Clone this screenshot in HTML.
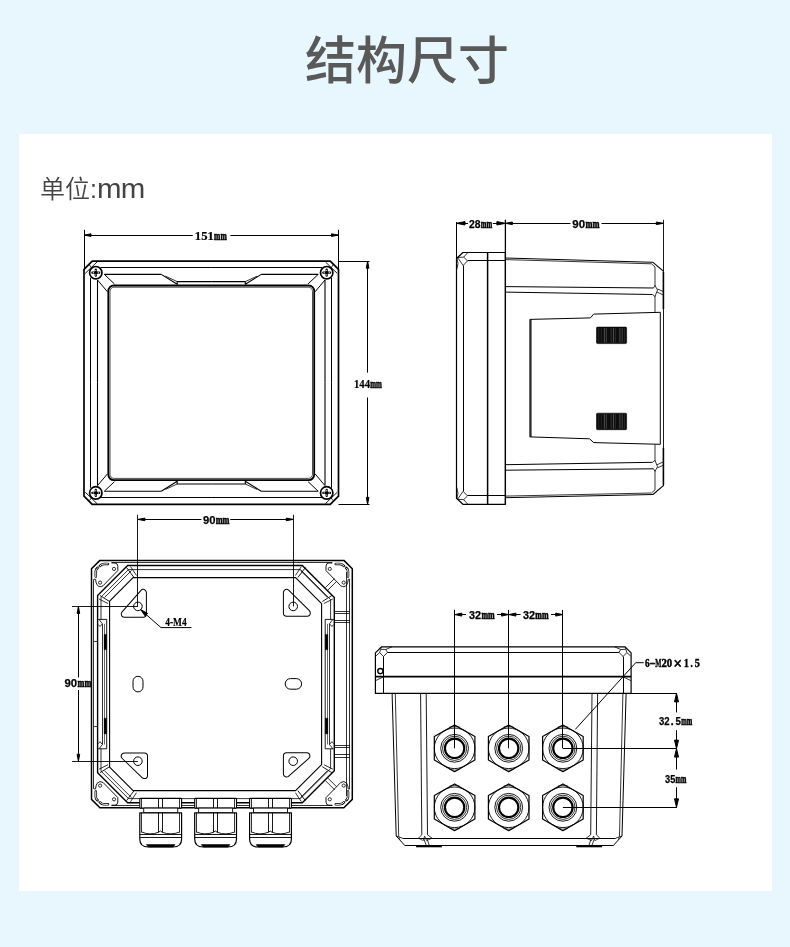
<!DOCTYPE html>
<html lang="zh-CN">
<head>
<meta charset="utf-8">
<title>结构尺寸</title>
<style>
html,body{margin:0;padding:0;}
body{width:790px;height:947px;background:#e8f6fe;position:relative;overflow:hidden;font-family:"Liberation Sans","Noto Sans CJK SC",sans-serif;}
.title{position:absolute;left:0;top:24px;width:790px;text-align:center;font-size:51px;line-height:76px;color:#595959;font-weight:500;letter-spacing:0px;text-indent:24px;will-change:transform;}
.card{position:absolute;left:18.5px;top:134px;width:753.5px;height:756.5px;background:#fff;}
.unit{position:absolute;left:40px;top:171px;font-size:25px;line-height:36px;color:#444;font-weight:350;white-space:nowrap;will-change:transform;}
.unit span{display:inline-block;font-size:27px;letter-spacing:-0.6px;transform:scaleX(1.09);transform-origin:0 50%;margin-left:0.3px;}
svg{position:absolute;left:0;top:0;will-change:transform;}
svg line, svg path, svg circle, svg rect, svg ellipse{stroke:#000;}
svg text{font-family:"Liberation Serif",serif;font-weight:700;fill:#000;stroke:#000;stroke-width:0.2px;}
svg text.mm{stroke:#000;stroke-width:0.6px;}
svg text.sn{font-family:"Liberation Sans",sans-serif;stroke:#000;stroke-width:0.25px;}
</style>
</head>
<body>
<div class="title">结构尺寸</div>
<div class="card"></div>
<div class="unit">单位:<span>mm</span></div>
<svg width="790" height="947" viewBox="0 0 790 947" fill="none" stroke-linecap="butt" stroke-linejoin="round">
<g id="front">
<path d="M92.2,261.2 L330.3,261.2 L338.5,269.4 L338.5,496.2 L330.3,504.4 L92.2,504.4 L84.0,496.2 L84.0,269.4 Z" stroke-width="1.7" fill="none" />
<line x1="100.5" y1="267.5" x2="211.2" y2="267.5" stroke-width="1.0" />
<line x1="90.5" y1="277.8" x2="90.5" y2="382.8" stroke-width="1.0" />
<line x1="104.3" y1="274.4" x2="161.3" y2="274.4" stroke-width="1.1" />
<line x1="97.5" y1="280.0" x2="97.5" y2="382.8" stroke-width="1.1" />
<path d="M161.3,274.4 L177.2,284.3 L177.2,281.6 L211.2,281.6" stroke-width="1.1" fill="none" />
<path d="M165.5,276.2 L177.2,281.6" stroke-width="0.8" fill="none" />
<line x1="104.3" y1="274.4" x2="114.4" y2="283.9" stroke-width="1.0" />
<line x1="97.5" y1="280.0" x2="107.5" y2="291.8" stroke-width="1.0" />
<line x1="85.2" y1="273.4" x2="97.0" y2="262.0" stroke-width="0.9" />
<line x1="89.5" y1="265.0" x2="91.8" y2="268.3" stroke-width="0.8" />
<circle cx="95.8" cy="272.7" r="6.2" stroke-width="1.7" fill="#fff"/>
<path d="M92.4,272.7 h6.8 M95.8,269.7 v6.0" stroke-width="2.3" stroke-linecap="round" fill="none"/>
<circle cx="95.8" cy="270.5" r="0.6" fill="#fff" style="stroke:none"/>
<circle cx="95.8" cy="274.9" r="0.6" fill="#fff" style="stroke:none"/>
<circle cx="93.3" cy="272.7" r="0.6" fill="#fff" style="stroke:none"/>
<circle cx="98.3" cy="272.7" r="0.6" fill="#fff" style="stroke:none"/>
<line x1="100.5" y1="497.5" x2="211.2" y2="497.5" stroke-width="1.0" />
<line x1="90.5" y1="487.8" x2="90.5" y2="382.8" stroke-width="1.0" />
<line x1="104.3" y1="491.2" x2="161.3" y2="491.2" stroke-width="1.1" />
<line x1="97.5" y1="485.6" x2="97.5" y2="382.8" stroke-width="1.1" />
<path d="M161.3,491.2 L177.2,481.3 L177.2,484.0 L211.2,484.0" stroke-width="1.1" fill="none" />
<path d="M165.5,489.4 L177.2,484.0" stroke-width="0.8" fill="none" />
<line x1="104.3" y1="491.2" x2="114.4" y2="481.7" stroke-width="1.0" />
<line x1="97.5" y1="485.6" x2="107.5" y2="473.8" stroke-width="1.0" />
<line x1="85.2" y1="492.2" x2="97.0" y2="503.6" stroke-width="0.9" />
<line x1="89.5" y1="500.6" x2="91.8" y2="497.3" stroke-width="0.8" />
<circle cx="95.8" cy="492.9" r="6.2" stroke-width="1.7" fill="#fff"/>
<path d="M92.4,492.9 h6.8 M95.8,489.9 v6.0" stroke-width="2.3" stroke-linecap="round" fill="none"/>
<circle cx="95.8" cy="490.7" r="0.6" fill="#fff" style="stroke:none"/>
<circle cx="95.8" cy="495.1" r="0.6" fill="#fff" style="stroke:none"/>
<circle cx="93.3" cy="492.9" r="0.6" fill="#fff" style="stroke:none"/>
<circle cx="98.3" cy="492.9" r="0.6" fill="#fff" style="stroke:none"/>
<line x1="322.0" y1="267.5" x2="211.2" y2="267.5" stroke-width="1.0" />
<line x1="331.5" y1="277.8" x2="331.5" y2="382.8" stroke-width="1.0" />
<line x1="318.2" y1="274.4" x2="261.2" y2="274.4" stroke-width="1.1" />
<line x1="325.0" y1="280.0" x2="325.0" y2="382.8" stroke-width="1.1" />
<path d="M261.2,274.4 L245.3,284.3 L245.3,281.6 L211.2,281.6" stroke-width="1.1" fill="none" />
<path d="M257.0,276.2 L245.3,281.6" stroke-width="0.8" fill="none" />
<line x1="318.2" y1="274.4" x2="308.1" y2="283.9" stroke-width="1.0" />
<line x1="325.0" y1="280.0" x2="315.0" y2="291.8" stroke-width="1.0" />
<line x1="337.3" y1="273.4" x2="325.5" y2="262.0" stroke-width="0.9" />
<line x1="333.0" y1="265.0" x2="330.7" y2="268.3" stroke-width="0.8" />
<circle cx="326.7" cy="272.7" r="6.2" stroke-width="1.7" fill="#fff"/>
<path d="M323.3,272.7 h6.8 M326.7,269.7 v6.0" stroke-width="2.3" stroke-linecap="round" fill="none"/>
<circle cx="326.7" cy="270.5" r="0.6" fill="#fff" style="stroke:none"/>
<circle cx="326.7" cy="274.9" r="0.6" fill="#fff" style="stroke:none"/>
<circle cx="324.2" cy="272.7" r="0.6" fill="#fff" style="stroke:none"/>
<circle cx="329.2" cy="272.7" r="0.6" fill="#fff" style="stroke:none"/>
<line x1="322.0" y1="497.5" x2="211.2" y2="497.5" stroke-width="1.0" />
<line x1="331.5" y1="487.8" x2="331.5" y2="382.8" stroke-width="1.0" />
<line x1="318.2" y1="491.2" x2="261.2" y2="491.2" stroke-width="1.1" />
<line x1="325.0" y1="485.6" x2="325.0" y2="382.8" stroke-width="1.1" />
<path d="M261.2,491.2 L245.3,481.3 L245.3,484.0 L211.2,484.0" stroke-width="1.1" fill="none" />
<path d="M257.0,489.4 L245.3,484.0" stroke-width="0.8" fill="none" />
<line x1="318.2" y1="491.2" x2="308.1" y2="481.7" stroke-width="1.0" />
<line x1="325.0" y1="485.6" x2="315.0" y2="473.8" stroke-width="1.0" />
<line x1="337.3" y1="492.2" x2="325.5" y2="503.6" stroke-width="0.9" />
<line x1="333.0" y1="500.6" x2="330.7" y2="497.3" stroke-width="0.8" />
<circle cx="326.7" cy="492.9" r="6.2" stroke-width="1.7" fill="#fff"/>
<path d="M323.3,492.9 h6.8 M326.7,489.9 v6.0" stroke-width="2.3" stroke-linecap="round" fill="none"/>
<circle cx="326.7" cy="490.7" r="0.6" fill="#fff" style="stroke:none"/>
<circle cx="326.7" cy="495.1" r="0.6" fill="#fff" style="stroke:none"/>
<circle cx="324.2" cy="492.9" r="0.6" fill="#fff" style="stroke:none"/>
<circle cx="329.2" cy="492.9" r="0.6" fill="#fff" style="stroke:none"/>
<rect x="108.3" y="285.5" width="205.9" height="194.6" rx="5.5" stroke-width="1.8" fill="none"/>
<rect x="110.0" y="287.2" width="202.5" height="191.2" rx="4.2" stroke-width="0.7" fill="none"/>
<line x1="84.5" y1="229.8" x2="84.5" y2="269.4" stroke-width="1.0" />
<line x1="338.5" y1="229.8" x2="338.5" y2="269.4" stroke-width="1.0" />
<line x1="84.0" y1="235.5" x2="192.8" y2="235.5" stroke-width="1.0" />
<line x1="230.4" y1="235.5" x2="338.5" y2="235.5" stroke-width="1.0" />
<path d="M84.0,235.1 L91.0,233.8 L91.0,236.4 Z" fill="#000" stroke="none"/>
<path d="M338.5,235.1 L331.5,233.8 L331.5,236.4 Z" fill="#000" stroke="none"/>
<text x="194.8" y="239.6" font-size="12.2" textLength="19.0" lengthAdjust="spacingAndGlyphs">151</text>
<text x="214.1" y="239.6" font-size="11.5" textLength="12.6" lengthAdjust="spacingAndGlyphs" class="mm">mm</text>
<line x1="338.5" y1="261.5" x2="369.5" y2="261.5" stroke-width="1.0" />
<line x1="338.5" y1="504.5" x2="369.5" y2="504.5" stroke-width="1.0" />
<line x1="367.5" y1="261.2" x2="367.5" y2="372.6" stroke-width="1.0" />
<line x1="367.5" y1="397.5" x2="367.5" y2="504.4" stroke-width="1.0" />
<path d="M367.6,261.2 L366.3,268.2 L368.9,268.2 Z" fill="#000" stroke="none"/>
<path d="M367.6,504.4 L366.3,497.4 L368.9,497.4 Z" fill="#000" stroke="none"/>
<text x="353.9" y="387.5" font-size="12.2" textLength="16.1" lengthAdjust="spacingAndGlyphs">144</text>
<text x="370.3" y="387.5" font-size="11.5" textLength="11.6" lengthAdjust="spacingAndGlyphs" class="mm">mm</text>
</g>
<g id="side">
<path d="M462.9,252.5 L505.4,252.5 L505.4,504.3 L462.9,504.3 L456.5,498.3 L456.5,258.5 Z" stroke-width="1.2" fill="none" />
<line x1="463.5" y1="265.5" x2="463.5" y2="491.3" stroke-width="1.0" />
<line x1="467.5" y1="260.5" x2="505.4" y2="260.5" stroke-width="1.0" />
<line x1="467.5" y1="495.5" x2="505.4" y2="495.5" stroke-width="1.0" />
<line x1="487.6" y1="252.5" x2="487.6" y2="504.3" stroke-width="1.5" />
<path d="M467.8,252.6 L463.7,257.1 L467.5,260.9 L463.1,265.5 L457.6,257.5 L463.7,257.1" stroke-width="0.8" fill="none" />
<path d="M456.8,258.0 L458.0,263.5 L456.8,269.3" stroke-width="0.8" fill="none" />
<path d="M467.8,504.2 L463.7,499.7 L467.5,495.9 L463.1,491.3 L457.6,499.3 L463.7,499.7" stroke-width="0.8" fill="none" />
<path d="M456.8,498.8 L458.0,493.3 L456.8,487.5" stroke-width="0.8" fill="none" />
<line x1="456.5" y1="222.0" x2="456.5" y2="258.0" stroke-width="1.0" />
<line x1="505.4" y1="219.8" x2="505.4" y2="504.3" stroke-width="1.3" />
<line x1="663.5" y1="219.8" x2="663.5" y2="486.2" stroke-width="0.9" />
<line x1="505.4" y1="258.0" x2="653.0" y2="262.3" stroke-width="1.0" />
<line x1="505.4" y1="259.6" x2="651.5" y2="263.8" stroke-width="0.8" />
<path d="M653.0,262.3 L663.3,271.2" stroke-width="1.1" fill="none" />
<path d="M651.5,263.8 L655.0,267.0 L655.0,286.0" stroke-width="0.8" fill="none" />
<path d="M655.0,296.0 L655.0,312.3" stroke-width="0.8" fill="none" />
<line x1="505.4" y1="286.6" x2="653.5" y2="288.0" stroke-width="1.0" />
<line x1="505.4" y1="292.1" x2="652.5" y2="294.5" stroke-width="1.0" />
<path d="M653.5,288.0 L655.0,285.5 L657.5,290.0 L655.0,296.5 L652.5,294.5" stroke-width="0.8" fill="none" />
<path d="M657.5,289.0 L663.3,291.5" stroke-width="0.8" fill="none" />
<path d="M657.0,292.0 L663.3,295.0" stroke-width="0.8" fill="none" />
<line x1="663.4" y1="272.0" x2="663.4" y2="309.0" stroke-width="1.6" />
<line x1="505.4" y1="497.7" x2="653.0" y2="494.5" stroke-width="1.0" />
<line x1="505.4" y1="496.1" x2="651.5" y2="493.0" stroke-width="0.8" />
<path d="M653.0,494.5 L663.3,485.6" stroke-width="1.1" fill="none" />
<path d="M651.5,493.0 L655.0,489.8 L655.0,470.8" stroke-width="0.8" fill="none" />
<path d="M655.0,460.8 L655.0,444.5" stroke-width="0.8" fill="none" />
<line x1="505.4" y1="470.2" x2="653.5" y2="468.8" stroke-width="1.0" />
<line x1="505.4" y1="464.7" x2="652.5" y2="462.3" stroke-width="1.0" />
<path d="M653.5,468.8 L655.0,471.3 L657.5,466.8 L655.0,460.3 L652.5,462.3" stroke-width="0.8" fill="none" />
<path d="M657.5,467.8 L663.3,465.3" stroke-width="0.8" fill="none" />
<path d="M657.0,464.8 L663.3,461.8" stroke-width="0.8" fill="none" />
<line x1="663.4" y1="484.8" x2="663.4" y2="447.8" stroke-width="1.6" />
<path d="M529.9,319.4 L590.4,317.9 L593.7,314.1 L660.3,312.3 L660.3,444.3 L593.7,442.6 L589.6,438.8 L529.9,436.9 Z" stroke-width="1.0" fill="none" />
<line x1="530.9" y1="319.4" x2="530.9" y2="436.9" stroke-width="1.2" />
<rect x="596.5" y="327.1" width="30.1" height="16.5" rx="1.0" stroke-width="0.6" fill="#0d0d0d"/>
<line x1="598.70" y1="328.0" x2="598.70" y2="342.7" style="stroke:#3a3a3a" stroke-width="0.5"/>
<line x1="601.30" y1="328.0" x2="601.30" y2="342.7" style="stroke:#3a3a3a" stroke-width="0.5"/>
<line x1="604.40" y1="328.0" x2="604.40" y2="342.7" style="stroke:#8c8c8c" stroke-width="0.5"/>
<line x1="606.30" y1="328.0" x2="606.30" y2="342.7" style="stroke:#7a7a7a" stroke-width="0.5"/>
<line x1="611.20" y1="328.0" x2="611.20" y2="342.7" style="stroke:#555" stroke-width="0.5"/>
<line x1="613.50" y1="328.0" x2="613.50" y2="342.7" style="stroke:#8c8c8c" stroke-width="0.5"/>
<line x1="615.40" y1="328.0" x2="615.40" y2="342.7" style="stroke:#444" stroke-width="0.5"/>
<line x1="619.90" y1="328.0" x2="619.90" y2="342.7" style="stroke:#8c8c8c" stroke-width="0.5"/>
<line x1="622.20" y1="328.0" x2="622.20" y2="342.7" style="stroke:#7a7a7a" stroke-width="0.5"/>
<line x1="624.50" y1="328.0" x2="624.50" y2="342.7" style="stroke:#3a3a3a" stroke-width="0.5"/>
<rect x="596.5" y="413.2" width="30.1" height="16.5" rx="1.0" stroke-width="0.6" fill="#0d0d0d"/>
<line x1="598.70" y1="414.1" x2="598.70" y2="428.8" style="stroke:#3a3a3a" stroke-width="0.5"/>
<line x1="601.30" y1="414.1" x2="601.30" y2="428.8" style="stroke:#3a3a3a" stroke-width="0.5"/>
<line x1="604.40" y1="414.1" x2="604.40" y2="428.8" style="stroke:#8c8c8c" stroke-width="0.5"/>
<line x1="606.30" y1="414.1" x2="606.30" y2="428.8" style="stroke:#7a7a7a" stroke-width="0.5"/>
<line x1="611.20" y1="414.1" x2="611.20" y2="428.8" style="stroke:#555" stroke-width="0.5"/>
<line x1="613.50" y1="414.1" x2="613.50" y2="428.8" style="stroke:#8c8c8c" stroke-width="0.5"/>
<line x1="615.40" y1="414.1" x2="615.40" y2="428.8" style="stroke:#444" stroke-width="0.5"/>
<line x1="619.90" y1="414.1" x2="619.90" y2="428.8" style="stroke:#8c8c8c" stroke-width="0.5"/>
<line x1="622.20" y1="414.1" x2="622.20" y2="428.8" style="stroke:#7a7a7a" stroke-width="0.5"/>
<line x1="624.50" y1="414.1" x2="624.50" y2="428.8" style="stroke:#3a3a3a" stroke-width="0.5"/>
<line x1="456.5" y1="223.5" x2="468.0" y2="223.5" stroke-width="1.0" />
<line x1="492.8" y1="223.5" x2="505.4" y2="223.5" stroke-width="1.0" />
<path d="M456.5,223.3 L465.0,221.6 L465.0,225.0 Z" fill="#000" stroke="none"/>
<path d="M505.4,223.3 L496.9,221.6 L496.9,225.0 Z" fill="#000" stroke="none"/>
<text x="468.9" y="227.6" font-size="11.5" textLength="11.5" lengthAdjust="spacingAndGlyphs" class="sn">28</text>
<text x="480.7" y="227.6" font-size="11.5" textLength="11.5" lengthAdjust="spacingAndGlyphs" class="mm">mm</text>
<line x1="505.4" y1="223.5" x2="570.5" y2="223.5" stroke-width="1.0" />
<line x1="601.5" y1="223.5" x2="663.3" y2="223.5" stroke-width="1.0" />
<path d="M505.4,223.3 L512.4,222.0 L512.4,224.6 Z" fill="#000" stroke="none"/>
<path d="M663.3,223.3 L656.3,222.0 L656.3,224.6 Z" fill="#000" stroke="none"/>
<text x="572.3" y="227.6" font-size="11.5" textLength="12.8" lengthAdjust="spacingAndGlyphs" class="sn">90</text>
<text x="585.4" y="227.6" font-size="11.5" textLength="14.0" lengthAdjust="spacingAndGlyphs" class="mm">mm</text>
</g>
<g id="back">
<path d="M99.9,560.4 L343.9,560.4 L352.3,568.8 L352.3,799.4 L343.9,807.8 L99.9,807.8 L91.5,799.4 L91.5,568.8 Z" stroke-width="1.5" fill="none" />
<line x1="111.5" y1="562.5" x2="332.3" y2="562.5" stroke-width="0.8" />
<line x1="111.5" y1="805.5" x2="332.3" y2="805.5" stroke-width="0.8" />
<line x1="93.5" y1="579.3" x2="93.5" y2="788.9" stroke-width="0.8" />
<line x1="349.5" y1="579.3" x2="349.5" y2="788.9" stroke-width="0.8" />
<path d="M127.6,565.5 L302.3,565.5 L334.3,597.5 L334.3,770.7 L302.3,802.7 L127.6,802.7 L97.6,772.7 L97.6,595.5 Z" stroke-width="1.4" fill="none" />
<path d="M128.5,569.6 L300.6,569.6 L330.6,599.6 L330.6,768.6 L300.6,798.6 L128.5,798.6 L101.0,771.1 L101.0,597.1 Z" stroke-width="0.8" fill="none" />
<path d="M133.1,577.6 L295.6,577.6 L321.6,603.6 L321.6,764.6 L295.6,790.6 L133.1,790.6 L109.6,767.1 L109.6,601.1 Z" stroke-width="1.1" fill="none" />
<line x1="126.5" y1="567.5" x2="134.0" y2="577.5" stroke-width="0.9" />
<line x1="130.5" y1="566.5" x2="136.5" y2="575.5" stroke-width="0.8" />
<line x1="100.0" y1="595.5" x2="109.6" y2="601.5" stroke-width="0.9" />
<line x1="99.0" y1="599.0" x2="108.0" y2="603.5" stroke-width="0.8" />
<line x1="104.5" y1="597.5" x2="131.5" y2="570.5" stroke-width="0.8" />
<line x1="126.5" y1="800.7" x2="134.0" y2="790.7" stroke-width="0.9" />
<line x1="130.5" y1="801.7" x2="136.5" y2="792.7" stroke-width="0.8" />
<line x1="100.0" y1="772.7" x2="109.6" y2="766.7" stroke-width="0.9" />
<line x1="99.0" y1="769.2" x2="108.0" y2="764.7" stroke-width="0.8" />
<line x1="104.5" y1="770.7" x2="131.5" y2="797.7" stroke-width="0.8" />
<line x1="305.4" y1="567.5" x2="297.9" y2="577.5" stroke-width="0.9" />
<line x1="301.4" y1="566.5" x2="295.4" y2="575.5" stroke-width="0.8" />
<line x1="331.9" y1="595.5" x2="322.3" y2="601.5" stroke-width="0.9" />
<line x1="332.9" y1="599.0" x2="323.9" y2="603.5" stroke-width="0.8" />
<line x1="327.4" y1="597.5" x2="300.4" y2="570.5" stroke-width="0.8" />
<line x1="305.4" y1="800.7" x2="297.9" y2="790.7" stroke-width="0.9" />
<line x1="301.4" y1="801.7" x2="295.4" y2="792.7" stroke-width="0.8" />
<line x1="331.9" y1="772.7" x2="322.3" y2="766.7" stroke-width="0.9" />
<line x1="332.9" y1="769.2" x2="323.9" y2="764.7" stroke-width="0.8" />
<line x1="327.4" y1="770.7" x2="300.4" y2="797.7" stroke-width="0.8" />
<path d="M111.5,563.0 L115.0,563.0 Q117.8,563.2 117.8,566.2 L117.8,570.6 L103.2,585.6 Q99.8,588.2 97.0,584.8 Q95.7,582.4 95.6,579.3 L94.0,579.3 " stroke-width="0.9" fill="none" />
<circle cx="114.0" cy="568.9" r="1.6" stroke-width="0.8" fill="none"/>
<circle cx="100.1" cy="582.6" r="1.6" stroke-width="0.8" fill="none"/>
<path d="M99.8,566.0 Q101.6,563.9 104.0,563.9 L108.0,563.9 " stroke-width="2.5" stroke-linecap="round" fill="none"/>
<path d="M99.8,566.0 Q101.6,563.9 104.0,563.9 L108.0,563.9 " stroke-width="1.0" stroke-linecap="round" fill="none" style="stroke:#fff"/>
<path d="M95.8,576.6 L95.8,571.0 Q96.0,569.0 97.6,567.9 " stroke-width="2.5" stroke-linecap="round" fill="none"/>
<path d="M95.8,576.6 L95.8,571.0 Q96.0,569.0 97.6,567.9 " stroke-width="1.0" stroke-linecap="round" fill="none" style="stroke:#fff"/>
<path d="M111.5,805.2 L115.0,805.2 Q117.8,805.0 117.8,802.0 L117.8,797.6 L103.2,782.6 Q99.8,780.0 97.0,783.4 Q95.7,785.8 95.6,788.9 L94.0,788.9 " stroke-width="0.9" fill="none" />
<circle cx="114.0" cy="799.3" r="1.6" stroke-width="0.8" fill="none"/>
<circle cx="100.1" cy="785.6" r="1.6" stroke-width="0.8" fill="none"/>
<path d="M99.8,802.2 Q101.6,804.3 104.0,804.3 L108.0,804.3 " stroke-width="2.5" stroke-linecap="round" fill="none"/>
<path d="M99.8,802.2 Q101.6,804.3 104.0,804.3 L108.0,804.3 " stroke-width="1.0" stroke-linecap="round" fill="none" style="stroke:#fff"/>
<path d="M95.8,791.6 L95.8,797.2 Q96.0,799.2 97.6,800.3 " stroke-width="2.5" stroke-linecap="round" fill="none"/>
<path d="M95.8,791.6 L95.8,797.2 Q96.0,799.2 97.6,800.3 " stroke-width="1.0" stroke-linecap="round" fill="none" style="stroke:#fff"/>
<path d="M332.3,563.0 L328.8,563.0 Q326.0,563.2 326.0,566.2 L326.0,570.6 L340.6,585.6 Q344.0,588.2 346.8,584.8 Q348.1,582.4 348.2,579.3 L349.8,579.3 " stroke-width="0.9" fill="none" />
<circle cx="329.8" cy="568.9" r="1.6" stroke-width="0.8" fill="none"/>
<circle cx="343.7" cy="582.6" r="1.6" stroke-width="0.8" fill="none"/>
<path d="M344.0,566.0 Q342.2,563.9 339.8,563.9 L335.8,563.9 " stroke-width="2.5" stroke-linecap="round" fill="none"/>
<path d="M344.0,566.0 Q342.2,563.9 339.8,563.9 L335.8,563.9 " stroke-width="1.0" stroke-linecap="round" fill="none" style="stroke:#fff"/>
<path d="M348.0,576.6 L348.0,571.0 Q347.8,569.0 346.2,567.9 " stroke-width="2.5" stroke-linecap="round" fill="none"/>
<path d="M348.0,576.6 L348.0,571.0 Q347.8,569.0 346.2,567.9 " stroke-width="1.0" stroke-linecap="round" fill="none" style="stroke:#fff"/>
<path d="M332.3,805.2 L328.8,805.2 Q326.0,805.0 326.0,802.0 L326.0,797.6 L340.6,782.6 Q344.0,780.0 346.8,783.4 Q348.1,785.8 348.2,788.9 L349.8,788.9 " stroke-width="0.9" fill="none" />
<circle cx="329.8" cy="799.3" r="1.6" stroke-width="0.8" fill="none"/>
<circle cx="343.7" cy="785.6" r="1.6" stroke-width="0.8" fill="none"/>
<path d="M344.0,802.2 Q342.2,804.3 339.8,804.3 L335.8,804.3 " stroke-width="2.5" stroke-linecap="round" fill="none"/>
<path d="M344.0,802.2 Q342.2,804.3 339.8,804.3 L335.8,804.3 " stroke-width="1.0" stroke-linecap="round" fill="none" style="stroke:#fff"/>
<path d="M348.0,791.6 L348.0,797.2 Q347.8,799.2 346.2,800.3 " stroke-width="2.5" stroke-linecap="round" fill="none"/>
<path d="M348.0,791.6 L348.0,797.2 Q347.8,799.2 346.2,800.3 " stroke-width="1.0" stroke-linecap="round" fill="none" style="stroke:#fff"/>
<line x1="346.5" y1="572.0" x2="346.5" y2="796.0" stroke-width="0.8" />
<line x1="334.3" y1="611.5" x2="349.7" y2="611.5" stroke-width="0.8" />
<line x1="334.3" y1="613.5" x2="349.7" y2="613.5" stroke-width="0.8" />
<line x1="334.3" y1="620.5" x2="349.7" y2="620.5" stroke-width="0.8" />
<line x1="334.3" y1="622.5" x2="349.7" y2="622.5" stroke-width="0.8" />
<line x1="334.3" y1="757.5" x2="349.7" y2="757.5" stroke-width="0.8" />
<line x1="334.3" y1="754.5" x2="349.7" y2="754.5" stroke-width="0.8" />
<line x1="334.3" y1="747.5" x2="349.7" y2="747.5" stroke-width="0.8" />
<line x1="334.3" y1="745.5" x2="349.7" y2="745.5" stroke-width="0.8" />
<line x1="325.5" y1="587.5" x2="334.5" y2="578.5" stroke-width="0.8" />
<line x1="328.0" y1="590.0" x2="336.5" y2="581.5" stroke-width="0.8" />
<line x1="325.5" y1="780.7" x2="334.5" y2="789.7" stroke-width="0.8" />
<line x1="328.0" y1="778.2" x2="336.5" y2="786.7" stroke-width="0.8" />
<rect x="99.2" y="619.4" width="9.4" height="129.4" rx="0" stroke-width="0" fill="#fff" style="stroke:none"/>
<path d="M98.2,619.4 L106.7,619.4 L106.7,748.8 L98.2,748.8" stroke-width="0.9" fill="none" />
<line x1="102.5" y1="623.8" x2="102.5" y2="744.5" stroke-width="0.8" />
<line x1="104.5" y1="623.8" x2="104.5" y2="744.5" stroke-width="0.6" />
<rect x="104.0" y="634.4" width="2.7" height="15.3" rx="0" stroke-width="0.3" fill="#000"/>
<rect x="104.0" y="718.2" width="2.7" height="15.7" rx="0" stroke-width="0.3" fill="#000"/>
<path d="M99.0,619.4 L102.4,623.8 L100.0,626.5 L98.2,624.5" stroke-width="0.8" fill="none" />
<path d="M99.0,748.8 L102.4,744.5 L100.0,741.7 L98.2,743.7" stroke-width="0.8" fill="none" />
<rect x="323.3" y="619.4" width="9.4" height="129.4" rx="0" stroke-width="0" fill="#fff" style="stroke:none"/>
<path d="M333.7,619.4 L325.2,619.4 L325.2,748.8 L333.7,748.8" stroke-width="0.9" fill="none" />
<line x1="329.5" y1="623.8" x2="329.5" y2="744.5" stroke-width="0.8" />
<line x1="327.5" y1="623.8" x2="327.5" y2="744.5" stroke-width="0.6" />
<rect x="325.2" y="634.4" width="2.7" height="15.3" rx="0" stroke-width="0.3" fill="#000"/>
<rect x="325.2" y="718.2" width="2.7" height="15.7" rx="0" stroke-width="0.3" fill="#000"/>
<path d="M332.9,619.4 L329.5,623.8 L331.9,626.5 L333.7,624.5" stroke-width="0.8" fill="none" />
<path d="M332.9,748.8 L329.5,744.5 L331.9,741.7 L333.7,743.7" stroke-width="0.8" fill="none" />
<line x1="94.1" y1="641.5" x2="97.6" y2="641.5" stroke-width="0.8" />
<line x1="94.1" y1="726.5" x2="97.6" y2="726.5" stroke-width="0.8" />
<path d="M124.5,614.0 L143.2,592.7 L143.2,614.0 Z" stroke-width="7.4" stroke-linejoin="round" fill="#000"/>
<path d="M124.5,614.0 L143.2,592.7 L143.2,614.0 Z" stroke-width="5.4" stroke-linejoin="round" fill="#fff" style="stroke:#fff"/>
<path d="M286.6,592.7 L286.6,613.0 L307.1,613.0 Z" stroke-width="7.4" stroke-linejoin="round" fill="#000"/>
<path d="M286.6,592.7 L286.6,613.0 L307.1,613.0 Z" stroke-width="5.4" stroke-linejoin="round" fill="#fff" style="stroke:#fff"/>
<path d="M124.5,756.2 L144.3,756.2 L144.3,775.4 Z" stroke-width="7.4" stroke-linejoin="round" fill="#000"/>
<path d="M124.5,756.2 L144.3,756.2 L144.3,775.4 Z" stroke-width="5.4" stroke-linejoin="round" fill="#fff" style="stroke:#fff"/>
<path d="M286.6,756.0 L306.7,756.0 L286.6,773.7 Z" stroke-width="7.4" stroke-linejoin="round" fill="#000"/>
<path d="M286.6,756.0 L306.7,756.0 L286.6,773.7 Z" stroke-width="5.4" stroke-linejoin="round" fill="#fff" style="stroke:#fff"/>
<circle cx="137.9" cy="606.4" r="4.3" stroke-width="1.0" fill="#fff"/>
<circle cx="137.9" cy="761.2" r="4.3" stroke-width="1.0" fill="#fff"/>
<circle cx="293.2" cy="606.4" r="4.3" stroke-width="1.0" fill="#fff"/>
<circle cx="293.2" cy="761.2" r="4.3" stroke-width="1.0" fill="#fff"/>
<rect x="133.0" y="676.3" width="10.0" height="15.6" rx="5.0" stroke-width="1.0" fill="none"/>
<rect x="285.2" y="678.6" width="16.4" height="10.6" rx="5.3" stroke-width="1.0" fill="none"/>
<rect x="139.8" y="798.4" width="41.8" height="9.7" rx="0" stroke-width="0.0" fill="#fff"/>
<rect x="139.8" y="798.4" width="41.8" height="9.7" rx="0.6" stroke-width="1.1" fill="#fff"/>
<line x1="141.5" y1="798.4" x2="141.5" y2="808.1" stroke-width="0.8" />
<line x1="179.5" y1="798.4" x2="179.5" y2="808.1" stroke-width="0.8" />
<line x1="158.5" y1="798.4" x2="158.5" y2="808.1" stroke-width="0.9" />
<line x1="162.5" y1="798.4" x2="162.5" y2="808.1" stroke-width="0.9" />
<rect x="143.7" y="808.1" width="34.0" height="4.7" rx="0" stroke-width="0.9" fill="#fff"/>
<path d="M139.8,812.8 L181.6,812.8 L181.6,839.0 Q181.6,847.0 173.1,847.0 L148.3,847.0 Q139.8,847.0 139.8,839.0 Z" stroke-width="1.2" fill="#fff" />
<line x1="141.5" y1="812.8" x2="141.5" y2="832.5" stroke-width="0.8" />
<line x1="179.5" y1="812.8" x2="179.5" y2="832.5" stroke-width="0.8" />
<line x1="158.5" y1="812.8" x2="158.5" y2="832.3" stroke-width="0.9" />
<line x1="162.5" y1="812.8" x2="162.5" y2="832.3" stroke-width="0.9" />
<path d="M141.7,832.0 Q149.8,835.6 158.5,832.3 L160.4,831.0 L162.3,832.3 Q170.8,835.6 179.7,832.0" stroke-width="0.9" fill="none" />
<line x1="140.1" y1="834.5" x2="181.3" y2="834.5" stroke-width="0.9" />
<line x1="140.1" y1="837.5" x2="181.3" y2="837.5" stroke-width="0.9" />
<path d="M146.4,844.6 L175.0,844.6 L173.1,847.0 L148.3,847.0 Z" stroke-width="0.6" fill="#000" />
<rect x="194.7" y="798.4" width="41.8" height="9.7" rx="0" stroke-width="0.0" fill="#fff"/>
<rect x="194.7" y="798.4" width="41.8" height="9.7" rx="0.6" stroke-width="1.1" fill="#fff"/>
<line x1="196.5" y1="798.4" x2="196.5" y2="808.1" stroke-width="0.8" />
<line x1="234.5" y1="798.4" x2="234.5" y2="808.1" stroke-width="0.8" />
<line x1="213.5" y1="798.4" x2="213.5" y2="808.1" stroke-width="0.9" />
<line x1="217.5" y1="798.4" x2="217.5" y2="808.1" stroke-width="0.9" />
<rect x="198.6" y="808.1" width="34.0" height="4.7" rx="0" stroke-width="0.9" fill="#fff"/>
<path d="M194.7,812.8 L236.5,812.8 L236.5,839.0 Q236.5,847.0 228.0,847.0 L203.2,847.0 Q194.7,847.0 194.7,839.0 Z" stroke-width="1.2" fill="#fff" />
<line x1="196.5" y1="812.8" x2="196.5" y2="832.5" stroke-width="0.8" />
<line x1="234.5" y1="812.8" x2="234.5" y2="832.5" stroke-width="0.8" />
<line x1="213.5" y1="812.8" x2="213.5" y2="832.3" stroke-width="0.9" />
<line x1="217.5" y1="812.8" x2="217.5" y2="832.3" stroke-width="0.9" />
<path d="M196.6,832.0 Q204.7,835.6 213.4,832.3 L215.3,831.0 L217.2,832.3 Q225.7,835.6 234.6,832.0" stroke-width="0.9" fill="none" />
<line x1="195.0" y1="834.5" x2="236.2" y2="834.5" stroke-width="0.9" />
<line x1="195.0" y1="837.5" x2="236.2" y2="837.5" stroke-width="0.9" />
<path d="M201.3,844.6 L229.9,844.6 L228.0,847.0 L203.2,847.0 Z" stroke-width="0.6" fill="#000" />
<rect x="249.6" y="798.4" width="41.8" height="9.7" rx="0" stroke-width="0.0" fill="#fff"/>
<rect x="249.6" y="798.4" width="41.8" height="9.7" rx="0.6" stroke-width="1.1" fill="#fff"/>
<line x1="251.5" y1="798.4" x2="251.5" y2="808.1" stroke-width="0.8" />
<line x1="289.5" y1="798.4" x2="289.5" y2="808.1" stroke-width="0.8" />
<line x1="268.5" y1="798.4" x2="268.5" y2="808.1" stroke-width="0.9" />
<line x1="272.5" y1="798.4" x2="272.5" y2="808.1" stroke-width="0.9" />
<rect x="253.5" y="808.1" width="34.0" height="4.7" rx="0" stroke-width="0.9" fill="#fff"/>
<path d="M249.6,812.8 L291.4,812.8 L291.4,839.0 Q291.4,847.0 282.9,847.0 L258.1,847.0 Q249.6,847.0 249.6,839.0 Z" stroke-width="1.2" fill="#fff" />
<line x1="251.5" y1="812.8" x2="251.5" y2="832.5" stroke-width="0.8" />
<line x1="289.5" y1="812.8" x2="289.5" y2="832.5" stroke-width="0.8" />
<line x1="268.5" y1="812.8" x2="268.5" y2="832.3" stroke-width="0.9" />
<line x1="272.5" y1="812.8" x2="272.5" y2="832.3" stroke-width="0.9" />
<path d="M251.5,832.0 Q259.6,835.6 268.3,832.3 L270.2,831.0 L272.1,832.3 Q280.6,835.6 289.5,832.0" stroke-width="0.9" fill="none" />
<line x1="249.9" y1="834.5" x2="291.1" y2="834.5" stroke-width="0.9" />
<line x1="249.9" y1="837.5" x2="291.1" y2="837.5" stroke-width="0.9" />
<path d="M256.2,844.6 L284.8,844.6 L282.9,847.0 L258.1,847.0 Z" stroke-width="0.6" fill="#000" />
<line x1="137.5" y1="514.8" x2="137.5" y2="606.4" stroke-width="0.9" />
<line x1="293.5" y1="514.8" x2="293.5" y2="606.4" stroke-width="0.9" />
<line x1="137.9" y1="519.5" x2="201.4" y2="519.5" stroke-width="1.0" />
<line x1="230.2" y1="519.5" x2="293.2" y2="519.5" stroke-width="1.0" />
<path d="M137.9,519.4 L144.9,518.1 L144.9,520.7 Z" fill="#000" stroke="none"/>
<path d="M293.2,519.4 L286.2,518.1 L286.2,520.7 Z" fill="#000" stroke="none"/>
<text x="202.9" y="523.6" font-size="11.5" textLength="12.5" lengthAdjust="spacingAndGlyphs" class="sn">90</text>
<text x="215.7" y="523.6" font-size="11.5" textLength="13.8" lengthAdjust="spacingAndGlyphs" class="mm">mm</text>
<line x1="72.0" y1="606.5" x2="137.9" y2="606.5" stroke-width="0.9" />
<line x1="72.0" y1="761.5" x2="137.9" y2="761.5" stroke-width="0.9" />
<line x1="78.5" y1="606.4" x2="78.5" y2="677.5" stroke-width="1.0" />
<line x1="78.5" y1="690.0" x2="78.5" y2="761.2" stroke-width="1.0" />
<path d="M78.4,606.4 L77.1,613.4 L79.7,613.4 Z" fill="#000" stroke="none"/>
<path d="M78.4,761.2 L77.1,754.2 L79.7,754.2 Z" fill="#000" stroke="none"/>
<text x="64.5" y="687.0" font-size="11.5" textLength="12.7" lengthAdjust="spacingAndGlyphs" class="sn">90</text>
<text x="77.5" y="687.0" font-size="11.5" textLength="13.8" lengthAdjust="spacingAndGlyphs" class="mm">mm</text>
<path d="M141.0,610.0 L161.0,627.6 L191.5,627.6" stroke-width="1.0" fill="none" />
<path d="M140.6,609.6 L147.6,613.4 L145.2,616.0 Z" fill="#000" stroke="none"/>
<text x="165.2" y="625.8" font-size="11.5" textLength="21.5" lengthAdjust="spacingAndGlyphs">4-M4</text>
</g>
<g id="bottom">
<path d="M381.4,646.8 L625.1,646.8 L631.1,652.8 L631.1,693.4 L375.4,693.4 L375.4,652.8 Z" stroke-width="1.2" fill="none" />
<line x1="387.6" y1="652.5" x2="618.9" y2="652.5" stroke-width="1.0" />
<line x1="383.5" y1="656.5" x2="383.5" y2="693.4" stroke-width="1.0" />
<line x1="623.5" y1="656.5" x2="623.5" y2="693.4" stroke-width="1.0" />
<line x1="375.4" y1="676.6" x2="631.1" y2="676.6" stroke-width="1.7" />
<path d="M391.8,646.9 L385.7,649.5 L387.6,652.4 L383.4,656.5 L379.7,652.6 L375.8,656.0" stroke-width="0.8" fill="none" />
<path d="M385.7,649.5 L380.6,649.3 L379.7,652.6" stroke-width="0.8" fill="none" />
<path d="M380.6,649.3 L381.5,646.8" stroke-width="0.7" fill="none" />
<path d="M375.6,680.6 L383.4,676.9" stroke-width="0.8" fill="none" />
<path d="M614.7,646.9 L620.8,649.5 L618.9,652.4 L623.1,656.5 L626.8,652.6 L630.7,656.0" stroke-width="0.8" fill="none" />
<path d="M620.8,649.5 L625.9,649.3 L626.8,652.6" stroke-width="0.8" fill="none" />
<path d="M625.9,649.3 L625.0,646.8" stroke-width="0.7" fill="none" />
<path d="M630.9,680.6 L623.1,676.9" stroke-width="0.8" fill="none" />
<circle cx="380.4" cy="671.1" r="2.6" stroke-width="1.4" fill="none"/>
<path d="M392.1,693.4 L396.2,836.0 L405.1,845.8" stroke-width="1.0" fill="none" />
<path d="M395.3,693.4 L398.7,836.0" stroke-width="0.8" fill="none" />
<path d="M420.6,693.4 L421.8,834.8" stroke-width="0.9" fill="none" />
<path d="M426.2,693.4 L427.5,834.8" stroke-width="0.9" fill="none" />
<path d="M396.2,836.0 L402.5,838.2" stroke-width="0.8" fill="none" />
<path d="M398.7,836.0 L400.0,839.8" stroke-width="0.6" fill="none" />
<path d="M418.4,838.2 L421.8,834.8" stroke-width="0.8" fill="none" />
<path d="M427.5,834.8 L432.0,838.2" stroke-width="0.8" fill="none" />
<path d="M418.4,838.2 L423.3,840.6 L424.6,836.0 L426.6,840.6 L432.0,838.2" stroke-width="0.7" fill="none" />
<path d="M423.6,838.2 L426.4,845.8" stroke-width="0.8" fill="none" />
<path d="M426.8,838.2 L429.4,845.8" stroke-width="0.8" fill="none" />
<line x1="416.1" y1="846.6" x2="441.9" y2="846.6" stroke-width="1.4" />
<path d="M626.1,693.4 L622.0,836.0 L613.1,845.8" stroke-width="1.0" fill="none" />
<path d="M622.9,693.4 L619.5,836.0" stroke-width="0.8" fill="none" />
<path d="M597.6,693.4 L596.4,834.8" stroke-width="0.9" fill="none" />
<path d="M592.0,693.4 L590.7,834.8" stroke-width="0.9" fill="none" />
<path d="M622.0,836.0 L615.7,838.2" stroke-width="0.8" fill="none" />
<path d="M619.5,836.0 L618.2,839.8" stroke-width="0.6" fill="none" />
<path d="M599.8,838.2 L596.4,834.8" stroke-width="0.8" fill="none" />
<path d="M590.7,834.8 L586.2,838.2" stroke-width="0.8" fill="none" />
<path d="M599.8,838.2 L594.9,840.6 L593.6,836.0 L591.6,840.6 L586.2,838.2" stroke-width="0.7" fill="none" />
<path d="M594.6,838.2 L591.8,845.8" stroke-width="0.8" fill="none" />
<path d="M591.4,838.2 L588.8,845.8" stroke-width="0.8" fill="none" />
<line x1="602.1" y1="846.6" x2="576.3" y2="846.6" stroke-width="1.4" />
<line x1="402.5" y1="838.5" x2="615.7" y2="838.5" stroke-width="1.0" />
<line x1="405.1" y1="845.5" x2="613.1" y2="845.5" stroke-width="1.0" />
<path d="M454.6,724.9 L474.9,736.6 L474.9,760.0 L454.6,771.7 L434.3,760.0 L434.3,736.6 Z" stroke-width="1.2" fill="#fff" />
<circle cx="454.6" cy="748.3" r="20.3" stroke-width="0.9" fill="none"/>
<path d="M449.6,727.1 L454.6,726.4 L459.6,727.1" stroke-width="0.7" fill="none" />
<path d="M449.6,769.5 L454.6,770.2 L459.6,769.5" stroke-width="0.7" fill="none" />
<circle cx="454.6" cy="748.3" r="13.9" stroke-width="0.9" fill="none"/>
<circle cx="454.6" cy="748.3" r="12.1" stroke-width="0.8" fill="none"/>
<circle cx="454.6" cy="748.3" r="9.7" stroke-width="2.2" fill="none"/>
<path d="M508.7,724.9 L529.0,736.6 L529.0,760.0 L508.7,771.7 L488.4,760.0 L488.4,736.6 Z" stroke-width="1.2" fill="#fff" />
<circle cx="508.7" cy="748.3" r="20.3" stroke-width="0.9" fill="none"/>
<path d="M503.7,727.1 L508.7,726.4 L513.7,727.1" stroke-width="0.7" fill="none" />
<path d="M503.7,769.5 L508.7,770.2 L513.7,769.5" stroke-width="0.7" fill="none" />
<circle cx="508.7" cy="748.3" r="13.9" stroke-width="0.9" fill="none"/>
<circle cx="508.7" cy="748.3" r="12.1" stroke-width="0.8" fill="none"/>
<circle cx="508.7" cy="748.3" r="9.7" stroke-width="2.2" fill="none"/>
<path d="M562.9,724.9 L583.2,736.6 L583.2,760.0 L562.9,771.7 L542.6,760.0 L542.6,736.6 Z" stroke-width="1.2" fill="#fff" />
<circle cx="562.9" cy="748.3" r="20.3" stroke-width="0.9" fill="none"/>
<path d="M557.9,727.1 L562.9,726.4 L567.9,727.1" stroke-width="0.7" fill="none" />
<path d="M557.9,769.5 L562.9,770.2 L567.9,769.5" stroke-width="0.7" fill="none" />
<circle cx="562.9" cy="748.3" r="13.9" stroke-width="0.9" fill="none"/>
<circle cx="562.9" cy="748.3" r="12.1" stroke-width="0.8" fill="none"/>
<circle cx="562.9" cy="748.3" r="9.7" stroke-width="2.2" fill="none"/>
<path d="M454.6,783.9 L474.9,795.6 L474.9,819.0 L454.6,830.7 L434.3,819.0 L434.3,795.6 Z" stroke-width="1.2" fill="#fff" />
<circle cx="454.6" cy="807.3" r="20.3" stroke-width="0.9" fill="none"/>
<path d="M449.6,786.1 L454.6,785.4 L459.6,786.1" stroke-width="0.7" fill="none" />
<path d="M449.6,828.5 L454.6,829.2 L459.6,828.5" stroke-width="0.7" fill="none" />
<circle cx="454.6" cy="807.3" r="13.9" stroke-width="0.9" fill="none"/>
<circle cx="454.6" cy="807.3" r="12.1" stroke-width="0.8" fill="none"/>
<circle cx="454.6" cy="807.3" r="9.7" stroke-width="2.2" fill="none"/>
<path d="M508.7,783.9 L529.0,795.6 L529.0,819.0 L508.7,830.7 L488.4,819.0 L488.4,795.6 Z" stroke-width="1.2" fill="#fff" />
<circle cx="508.7" cy="807.3" r="20.3" stroke-width="0.9" fill="none"/>
<path d="M503.7,786.1 L508.7,785.4 L513.7,786.1" stroke-width="0.7" fill="none" />
<path d="M503.7,828.5 L508.7,829.2 L513.7,828.5" stroke-width="0.7" fill="none" />
<circle cx="508.7" cy="807.3" r="13.9" stroke-width="0.9" fill="none"/>
<circle cx="508.7" cy="807.3" r="12.1" stroke-width="0.8" fill="none"/>
<circle cx="508.7" cy="807.3" r="9.7" stroke-width="2.2" fill="none"/>
<path d="M562.9,783.9 L583.2,795.6 L583.2,819.0 L562.9,830.7 L542.6,819.0 L542.6,795.6 Z" stroke-width="1.2" fill="#fff" />
<circle cx="562.9" cy="807.3" r="20.3" stroke-width="0.9" fill="none"/>
<path d="M557.9,786.1 L562.9,785.4 L567.9,786.1" stroke-width="0.7" fill="none" />
<path d="M557.9,828.5 L562.9,829.2 L567.9,828.5" stroke-width="0.7" fill="none" />
<circle cx="562.9" cy="807.3" r="13.9" stroke-width="0.9" fill="none"/>
<circle cx="562.9" cy="807.3" r="12.1" stroke-width="0.8" fill="none"/>
<circle cx="562.9" cy="807.3" r="9.7" stroke-width="2.2" fill="none"/>
<line x1="454.5" y1="609.9" x2="454.5" y2="748.3" stroke-width="1.0" />
<line x1="508.5" y1="609.9" x2="508.5" y2="748.3" stroke-width="1.0" />
<line x1="562.5" y1="609.9" x2="562.5" y2="748.3" stroke-width="1.0" />
<line x1="454.6" y1="614.5" x2="466.0" y2="614.5" stroke-width="1.0" />
<line x1="497.1" y1="614.5" x2="508.7" y2="614.5" stroke-width="1.0" />
<line x1="508.7" y1="614.5" x2="520.6" y2="614.5" stroke-width="1.0" />
<line x1="551.0" y1="614.5" x2="562.9" y2="614.5" stroke-width="1.0" />
<path d="M455.0,614.6 L461.8,613.1 L461.8,616.1 Z" fill="#000" stroke="none"/>
<path d="M508.3,614.6 L501.5,613.1 L501.5,616.1 Z" fill="#000" stroke="none"/>
<path d="M509.1,614.6 L515.9,613.1 L515.9,616.1 Z" fill="#000" stroke="none"/>
<path d="M562.5,614.6 L555.7,613.1 L555.7,616.1 Z" fill="#000" stroke="none"/>
<text x="469.0" y="618.6" font-size="11.2" textLength="12.1" lengthAdjust="spacingAndGlyphs" class="sn">32</text>
<text x="481.4" y="618.6" font-size="11.5" textLength="13.2" lengthAdjust="spacingAndGlyphs" class="mm">mm</text>
<text x="522.9" y="618.6" font-size="11.2" textLength="12.1" lengthAdjust="spacingAndGlyphs" class="sn">32</text>
<text x="535.3" y="618.6" font-size="11.5" textLength="13.2" lengthAdjust="spacingAndGlyphs" class="mm">mm</text>
<line x1="631.1" y1="693.5" x2="677.0" y2="693.5" stroke-width="1.0" />
<line x1="562.9" y1="748.5" x2="677.0" y2="748.5" stroke-width="1.0" />
<line x1="562.9" y1="807.5" x2="677.0" y2="807.5" stroke-width="1.0" />
<line x1="676.5" y1="693.4" x2="676.5" y2="712.4" stroke-width="1.0" />
<line x1="676.5" y1="730.2" x2="676.5" y2="748.3" stroke-width="1.0" />
<line x1="676.5" y1="748.3" x2="676.5" y2="769.6" stroke-width="1.0" />
<line x1="676.5" y1="787.2" x2="676.5" y2="807.3" stroke-width="1.0" />
<path d="M676.5,693.4 L674.5,701.9 L678.5,701.9 Z" fill="#000" stroke="none"/>
<path d="M676.5,748.6 L674.5,740.1 L678.5,740.1 Z" fill="#000" stroke="none"/>
<path d="M676.5,748.6 L674.5,757.1 L678.5,757.1 Z" fill="#000" stroke="none"/>
<path d="M676.5,807.3 L674.5,798.8 L678.5,798.8 Z" fill="#000" stroke="none"/>
<text x="659.0" y="725.4" font-size="11.8" textLength="10.6" lengthAdjust="spacingAndGlyphs" class="sn">32</text>
<text x="670.6" y="725.4" font-size="11.8" class="sn">.</text>
<text x="675.4" y="725.4" font-size="11.8" textLength="5.4" lengthAdjust="spacingAndGlyphs" class="sn">5</text>
<text x="681.2" y="725.4" font-size="11.5" textLength="11.0" lengthAdjust="spacingAndGlyphs" class="mm">mm</text>
<text x="665.0" y="782.5" font-size="11.4" textLength="10.3" lengthAdjust="spacingAndGlyphs" class="sn">35</text>
<text x="675.6" y="782.5" font-size="11.5" textLength="10.7" lengthAdjust="spacingAndGlyphs" class="mm">mm</text>
<path d="M575.3,729.4 L635.7,662.7 L643.7,662.7" stroke-width="1.0" fill="none" />
<text x="644.9" y="666.7" font-size="12.3" textLength="4.6" lengthAdjust="spacingAndGlyphs" style="stroke-width:0.45px">6</text>
<text x="649.4" y="666.7" font-size="12.3" textLength="6.0" lengthAdjust="spacingAndGlyphs" style="stroke-width:0.45px">-</text>
<text x="655.3" y="666.7" font-size="12.3" textLength="6.2" lengthAdjust="spacingAndGlyphs" style="stroke-width:0.45px">M</text>
<text x="661.4" y="666.7" font-size="12.3" textLength="10.7" lengthAdjust="spacingAndGlyphs" style="stroke-width:0.45px">20</text>
<text x="673.2" y="668.6" font-size="16.5" textLength="9.0" lengthAdjust="spacingAndGlyphs" style="stroke-width:0.45px">×</text>
<text x="684.0" y="666.7" font-size="12.3" textLength="4.8" lengthAdjust="spacingAndGlyphs" style="stroke-width:0.45px">1</text>
<text x="690.4" y="666.7" font-size="12.3" textLength="2.2" lengthAdjust="spacingAndGlyphs" style="stroke-width:0.45px">.</text>
<text x="694.8" y="666.7" font-size="12.3" textLength="5.1" lengthAdjust="spacingAndGlyphs" style="stroke-width:0.45px">5</text>
</g>
</svg>
</body>
</html>
